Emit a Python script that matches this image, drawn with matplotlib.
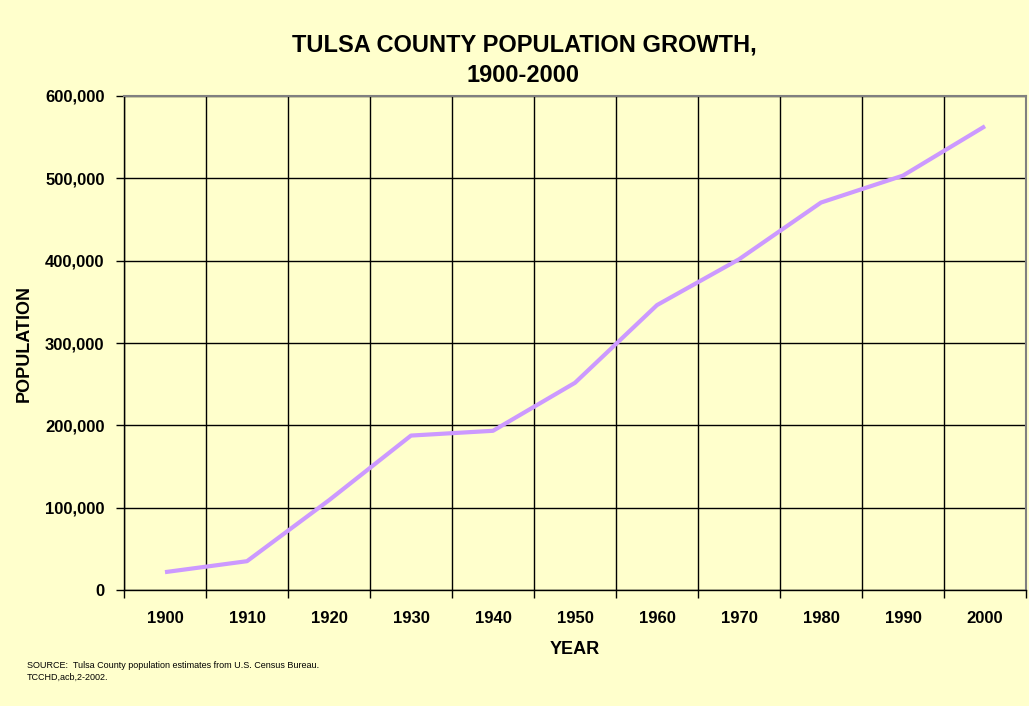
import matplotlib
matplotlib.use("Agg")
import matplotlib.pyplot as plt
from matplotlib.ticker import FuncFormatter, FixedLocator

years = ["1900", "1910", "1920", "1930", "1940", "1950", "1960", "1970", "1980", "1990", "2000"]
population = [21693, 34995, 109023, 187574, 193363, 251686, 346038, 401663, 470593, 503341, 563299]
y_ticks = [0, 100000, 200000, 300000, 400000, 500000, 600000]

BG = "#FFFFCC"
LINE = "#CC99FF"
plt.rcParams['font.family'] = ['Liberation Sans', 'DejaVu Sans']

fig = plt.figure(figsize=(10.29, 7.06), dpi=100, facecolor=BG)
ax = fig.add_axes([124/1029, 116/706, (1026-124)/1029, (590-96)/706])
ax.set_facecolor(BG)

x = list(range(len(years)))
ax.plot(x, population, color=LINE, lw=3, solid_capstyle='butt', zorder=3)

ax.set_xlim(-0.5, len(years) - 0.5)
ax.set_ylim(0, 600000)
ax.set_xticks(x)
ax.set_xticklabels(years, fontsize=12, fontweight='bold')
ax.tick_params(axis='x', which='major', length=0, pad=15)
bounds = [i - 0.5 for i in range(len(years) + 1)]
ax.xaxis.set_minor_locator(FixedLocator(bounds))
ax.tick_params(axis='x', which='minor', length=6, width=1, color='black', direction='out')
ax.grid(True, axis='x', which='minor', color='black', lw=1)

ax.set_yticks(y_ticks)
ax.yaxis.set_major_formatter(FuncFormatter(lambda v, p: f"{int(v):,}"))
ax.tick_params(axis='y', length=6, width=1, direction='out', labelsize=12, pad=8)
for lbl in ax.get_yticklabels():
    lbl.set_fontweight('bold')
ax.grid(True, axis='y', which='major', color='black', lw=1)
ax.set_axisbelow(True)

for s in ['left', 'bottom']:
    ax.spines[s].set_color('black')
    ax.spines[s].set_linewidth(1)
for s in ['top', 'right']:
    ax.spines[s].set_color('#808080')
    ax.spines[s].set_linewidth(1.5)

fig.text(24/1029, 1 - 343/706, "POPULATION", rotation=90, ha='center', va='center',
         fontsize=13, fontweight='bold')
fig.text(575/1029, 1 - 650/706, "YEAR", ha='center', va='center', fontsize=13, fontweight='bold')

fig.text(524/1029, 1 - 45/706, "TULSA COUNTY POPULATION GROWTH,", ha='center', va='center',
         fontsize=17, fontweight='bold')
fig.text(523/1029, 1 - 76/706, "1900-2000", ha='center', va='center',
         fontsize=17, fontweight='bold')
fig.text(27/1029, 1 - 666/706, "SOURCE:  Tulsa County population estimates from U.S. Census Bureau.",
         ha='left', va='center', fontsize=6.5)
fig.text(27/1029, 1 - 677/706, "TCCHD,acb,2-2002.", ha='left', va='center', fontsize=6.5)

fig.savefig("out.png", dpi=100, facecolor=BG)
